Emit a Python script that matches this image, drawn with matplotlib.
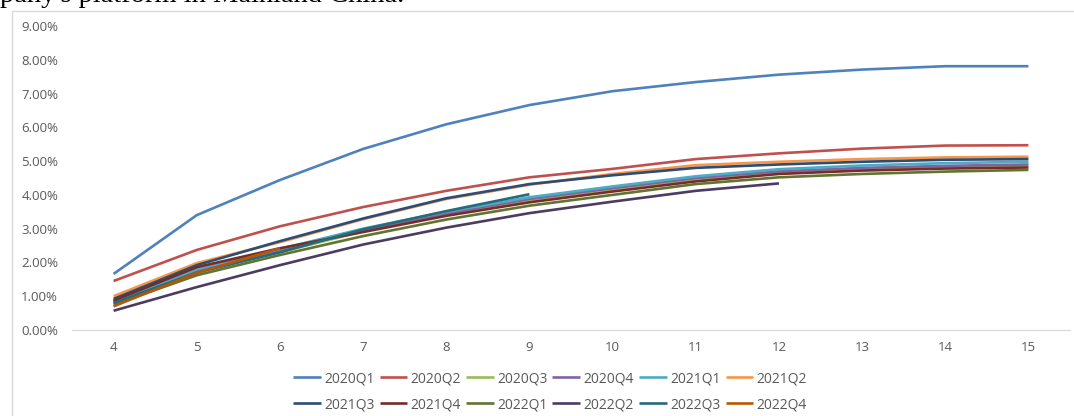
import matplotlib
matplotlib.use("Agg")
import matplotlib.pyplot as plt
from matplotlib.patches import Rectangle
from matplotlib.ticker import FuncFormatter

months = [4, 5, 6, 7, 8, 9, 10, 11, 12, 13, 14, 15]

cohorts = ["2020Q1", "2020Q2", "2020Q3", "2020Q4", "2021Q1", "2021Q2",
           "2021Q3", "2021Q4", "2022Q1", "2022Q2", "2022Q3", "2022Q4"]

q2020q1 = [1.66, 3.40, 4.44, 5.36, 6.09, 6.66, 7.07, 7.34, 7.56, 7.71, 7.81, 7.81]
q2020q2 = [1.45, 2.37, 3.07, 3.64, 4.12, 4.52, 4.77, 5.06, 5.23, 5.37, 5.46, 5.47]
q2020q3 = [0.80, 1.74, 2.30, 2.92, 3.42, 3.84, 4.16, 4.46, 4.66, 4.77, 4.84, 4.86]
q2020q4 = [0.85, 1.78, 2.35, 2.95, 3.45, 3.88, 4.20, 4.50, 4.70, 4.80, 4.86, 4.90]
q2021q1 = [0.82, 1.80, 2.40, 3.00, 3.50, 3.93, 4.25, 4.55, 4.76, 4.87, 4.94, 4.98]
q2021q2 = [1.00, 1.98, 2.60, 3.28, 3.88, 4.30, 4.62, 4.88, 4.98, 5.06, 5.11, 5.13]
q2021q3 = [0.92, 1.92, 2.63, 3.30, 3.90, 4.32, 4.58, 4.80, 4.90, 4.98, 5.04, 5.06]
q2021q4 = [0.87, 1.86, 2.42, 2.90, 3.38, 3.78, 4.10, 4.40, 4.62, 4.72, 4.78, 4.81]
q2022q1 = [0.75, 1.62, 2.22, 2.78, 3.27, 3.68, 4.00, 4.32, 4.52, 4.62, 4.69, 4.74]
q2022q2 = [0.57, 1.27, 1.92, 2.53, 3.03, 3.46, 3.80, 4.12, 4.34]
q2022q3 = [0.80, 1.70, 2.30, 2.98, 3.52, 4.02]
q2022q4 = [0.70, 1.69, 2.42]

series = [q2020q1, q2020q2, q2020q3, q2020q4, q2021q1, q2021q2,
          q2021q3, q2021q4, q2022q1, q2022q2, q2022q3, q2022q4]

colors = ["#4F81BD", "#C0504D", "#9BBB59", "#8064A2", "#4BACC6", "#F79646",
          "#2C4D75", "#772C2A", "#5F7530", "#4D3B62", "#276A7C", "#B65708"]

plt.rcParams['font.family'] = ['Open Sans', 'DejaVu Sans']

W, H = 1074, 416
fig = plt.figure(figsize=(W / 100, H / 100), dpi=100)

# chart border
fig.patches.append(Rectangle((12 / W, -0.1), 1.2, 1 - 11 / H + 0.1,
                             transform=fig.transFigure, fill=False,
                             edgecolor="#D9D9D9", linewidth=1.0))

# cut-off caption text above chart
fig.text(0.0, 1 - 2 / H, "pany's platform in Mainland China.",
         family="Liberation Serif", fontsize=20.5, color="black",
         ha="left", va="baseline")

ax = fig.add_axes([72 / W, 1 - 330 / H, (1070 - 72) / W, (330 - 26) / H])

handles = []
for name, vals, c in zip(cohorts, series, colors):
    h, = ax.plot(months[:len(vals)], vals, color=c, linewidth=1.9, label=name,
                 solid_capstyle="butt")
    handles.append(h)

ax.set_xlim(3.5, 15.5)
ax.set_ylim(0, 9)
ax.set_xticks(months)
ax.set_yticks(range(0, 10))
ax.yaxis.set_major_formatter(FuncFormatter(lambda v, p: f"{v:.2f}%"))
for s in ["top", "right", "left"]:
    ax.spines[s].set_visible(False)
ax.spines["bottom"].set_color("#D9D9D9")
ax.tick_params(axis="both", length=0, labelsize=9.5, colors="#595959")
ax.tick_params(axis="y", pad=10)
ax.tick_params(axis="x", pad=8)

# legend filled row by row (6 columns, 2 rows)
ncol = 6
order = []
for c in range(ncol):
    order += [c, c + ncol]
leg = ax.legend([handles[i] for i in order], [cohorts[i] for i in order],
                loc="upper center", bbox_to_anchor=(0.479, -0.094), ncol=ncol,
                frameon=False, fontsize=10, handlelength=2.0,
                handletextpad=0.25, columnspacing=0.35, labelspacing=0.8,
                labelcolor="#595959")

fig.savefig("out.png", dpi=100)
